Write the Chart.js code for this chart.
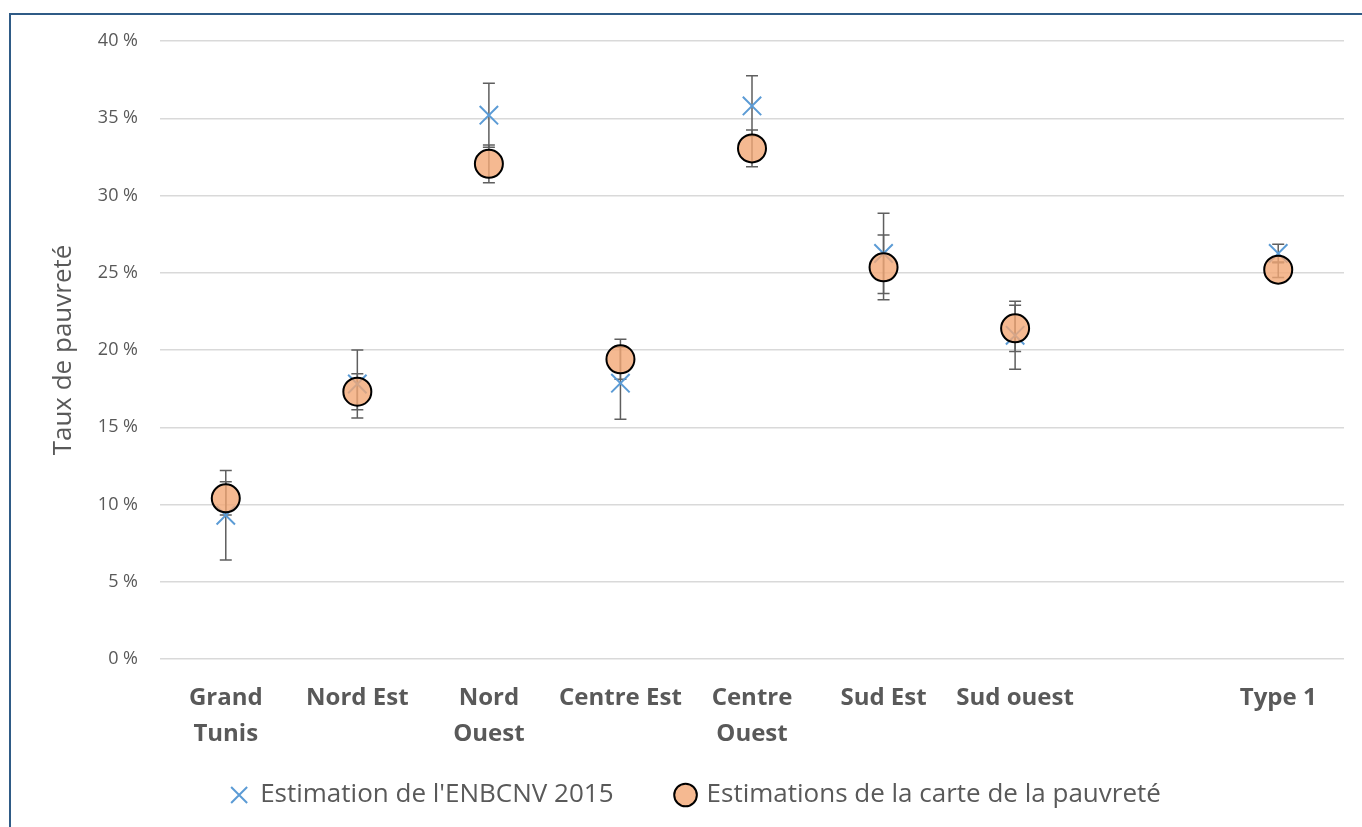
<!DOCTYPE html>
<html>
<head>
<meta charset="utf-8">
<script src="https://cdn.jsdelivr.net/npm/chart.js@4.4.1/dist/chart.umd.min.js"></script>
<style>
  html, body { margin: 0; padding: 0; background: #fff; overflow: hidden; }
  #frame { position: absolute; left: 9px; top: 13px; width: 1400px; height: 900px; border: 2px solid #2F5B86; }
  #wrap { position: absolute; left: 0; top: 0; width: 1362px; height: 827px; }
</style>
</head>
<body>
<div id="frame"></div>
<div id="wrap"><canvas id="povChart"></canvas></div>
<script>
const regions = [
  ["Grand", "Tunis"],
  "Nord Est",
  ["Nord", "Ouest"],
  "Centre Est",
  ["Centre", "Ouest"],
  "Sud Est",
  "Sud ouest",
  "",
  "Type 1",
];

// Estimation de l'ENBCNV 2015 (%), with half-width of the interval
const enqValues = [9.3, 17.8, 35.2, 17.85, 35.8, 26.25, 20.95, null, 26.25];
const enqErrors = [2.9, 2.2, 2.07, 2.33, 1.95, 2.6, 2.2, null, 0.6];

// Estimations de la carte de la pauvreté (%), with half-width of the interval
const mapValues = [10.4, 17.3, 32.05, 19.4, 33.05, 25.35, 21.4, null, 25.2];
const mapErrors = [1.08, 1.17, 1.22, 1.3, 1.19, 2.1, 1.5, null, 0.5];

const yTicks = [0, 5, 10, 15, 20, 25, 30, 35, 40];

const errorBars = {
  id: "errorBars",
  beforeDatasetsDraw(chart) {
    const ctx = chart.ctx;
    const x = chart.scales.x;
    const y = chart.scales.y;
    const sets = [[enqValues, enqErrors], [mapValues, mapErrors]];
    ctx.save();
    ctx.strokeStyle = "#5f5f5f";
    ctx.lineWidth = 1.5;
    sets.forEach(([vals, errs]) => {
      vals.forEach((v, i) => {
        if (v === null) return;
        const px = x.getPixelForValue(i);
        const top = y.getPixelForValue(v + errs[i]);
        const bot = y.getPixelForValue(v - errs[i]);
        ctx.beginPath();
        ctx.moveTo(px, top);
        ctx.lineTo(px, bot);
        ctx.moveTo(px - 6, top);
        ctx.lineTo(px + 6, top);
        ctx.moveTo(px - 6, bot);
        ctx.lineTo(px + 6, bot);
        ctx.stroke();
      });
    });
    ctx.restore();
  },
};

const ctx = document.getElementById("povChart").getContext("2d");
const povChart = new Chart(ctx, {
  type: "line",
  data: {
    labels: regions,
    datasets: [
      {
        label: "Estimation de l'ENBCNV 2015",
        data: enqValues,
        showLine: false,
        pointStyle: "crossRot",
        pointRadius: 13,
        pointHoverRadius: 13,
        borderColor: "#5B9BD5",
        backgroundColor: "#5B9BD5",
        pointBorderWidth: 2,
        order: 1,
      },
      {
        label: "Estimations de la carte de la pauvreté",
        data: mapValues,
        showLine: false,
        pointStyle: "circle",
        pointRadius: 14,
        pointHoverRadius: 14,
        borderColor: "#000000",
        backgroundColor: "rgba(242,168,118,0.8)",
        pointBorderWidth: 2,
        order: 0,
      },
    ],
  },
  options: {
    responsive: true,
    maintainAspectRatio: false,
    animation: false,
    layout: { padding: { left: 48, right: 18, top: 41, bottom: 9 } },
    plugins: {
      tooltip: { enabled: false },
      legend: {
        position: "bottom",
        labels: {
          usePointStyle: true,
          boxWidth: 16,
          boxHeight: 16,
          padding: 10,
          color: "#595959",
          font: { family: "Open Sans", size: 26 },
          sort: (a, b) => a.datasetIndex - b.datasetIndex,
          generateLabels: (chart) => {
            const items = Chart.defaults.plugins.legend.labels.generateLabels(chart);
            // wider gap after the first entry, as in the original
            items.forEach((it) => { if (it.datasetIndex === 0) it.text += "        "; });
            return items;
          },
        },
      },
    },
    scales: {
      x: {
        offset: true,
        grid: { display: false },
        border: { display: false },
        ticks: {
          color: "#595959",
          font: { family: "Open Sans", size: 24, weight: "bold", lineHeight: 1.5 },
          maxRotation: 0,
          autoSkip: false,
          padding: 13,
        },
        afterFit: (s) => { s.height = 113; },
      },
      y: {
        min: 0,
        max: 40,
        afterBuildTicks: (s) => { s.ticks = yTicks.map((v) => ({ value: v })); },
        afterFit: (s) => { s.width = 112; },
        grid: { color: "#D9D9D9", lineWidth: 1.5, drawTicks: false },
        border: { display: false },
        ticks: {
          color: "#595959",
          font: { family: "Open Sans", size: 18 },
          padding: 22,
          callback: (v) => v + " %",
        },
        title: {
          display: true,
          text: "Taux de pauvreté",
          color: "#595959",
          font: { family: "Open Sans", size: 26 },
          padding: 0,
        },
      },
    },
  },
  plugins: [errorBars],
});
</script>
</body>
</html>
